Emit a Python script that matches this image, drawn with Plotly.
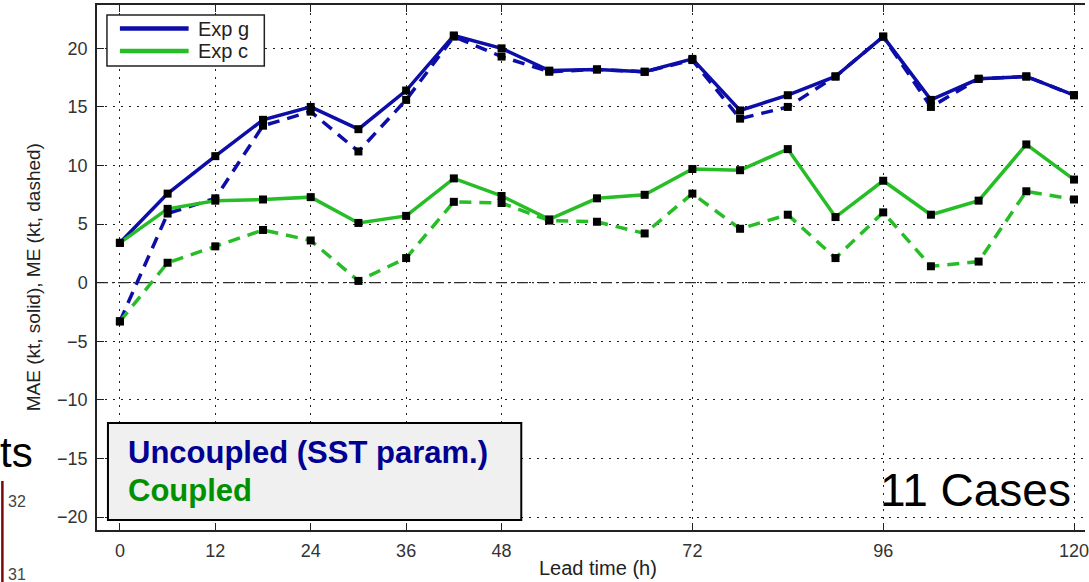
import plotly.graph_objects as go

# Lead times (h) and intensity errors (kt)
lead_time = [0, 6, 12, 18, 24, 30, 36, 42, 48, 54, 60, 66, 72, 78, 84, 90, 96, 102, 108, 114, 120]
exp_g_mae = [3.4, 7.6, 10.8, 13.9, 15.0, 13.1, 16.4, 21.1, 20.0, 18.1, 18.2, 18.0, 19.1, 14.7, 16.0, 17.6, 21.0, 15.6, 17.4, 17.6, 16.0]
exp_g_me = [-3.3, 5.9, 7.2, 13.4, 14.6, 11.2, 15.6, 21.0, 19.3, 18.0, 18.2, 18.0, 19.0, 14.0, 15.0, 17.6, 21.0, 15.0, 17.4, 17.6, 16.0]
exp_c_mae = [3.4, 6.3, 7.0, 7.1, 7.3, 5.1, 5.7, 8.9, 7.4, 5.4, 7.2, 7.5, 9.7, 9.6, 11.4, 5.6, 8.7, 5.8, 7.0, 11.8, 8.8]
exp_c_me = [-3.3, 1.7, 3.1, 4.5, 3.6, 0.15, 2.1, 6.9, 6.8, 5.3, 5.2, 4.2, 7.6, 4.6, 5.8, 2.1, 6.0, 1.4, 1.8, 7.8, 7.1]

x_ticks = [0, 12, 24, 36, 48, 72, 96, 120]
y_ticks = [-20, -15, -10, -5, 0, 5, 10, 15, 20]
legend_labels = ["Exp g", "Exp c"]
box_labels = ["Uncoupled (SST param.)", "Coupled"]
case_label = "11 Cases"

BLUE = "#0d0da8"
GREEN = "#27bd27"
FONT = "Liberation Sans, Arial, sans-serif"

W, H = 1089, 582
ML, MR, MT, MB = 97, 0, 5, 52
PW = W - ML - MR
PH = H - MT - MB


def px(x):
    return (x - ML) / PW


def py(y):
    return (H - MB - y) / PH


fig = go.Figure()

series = [
    (exp_g_me, BLUE, "12px,8px"),
    (exp_g_mae, BLUE, "solid"),
    (exp_c_me, GREEN, "12px,8px"),
    (exp_c_mae, GREEN, "solid"),
]
for values, color, dash in series:
    fig.add_trace(go.Scatter(
        x=lead_time, y=values, mode="lines+markers",
        line=dict(color=color, width=3.5, dash=dash),
        marker=dict(symbol="square", size=8, color="black", line=dict(width=0)),
        showlegend=False, hoverinfo="skip",
    ))

shapes = []
annotations = []

# zero reference line (dash-dot)
shapes.append(dict(type="line", xref="paper", yref="y", x0=0, x1=1, y0=0, y1=0,
                   line=dict(color="#333333", width=1.3, dash="11px,4px,2px,4px"),
                   layer="below"))

# legend box
shapes.append(dict(type="rect", xref="paper", yref="paper",
                   x0=px(107), x1=px(265), y0=py(66), y1=py(15),
                   line=dict(color="#222222", width=1.5), fillcolor="white"))
for label, color, yy in zip(legend_labels, [BLUE, GREEN], [28.5, 51]):
    shapes.append(dict(type="line", xref="paper", yref="paper",
                       x0=px(120), x1=px(189), y0=py(yy), y1=py(yy),
                       line=dict(color=color, width=4.5)))
    annotations.append(dict(xref="paper", yref="paper", x=px(196), y=py(yy),
                            xanchor="left", yanchor="middle", showarrow=False,
                            text=label, font=dict(family=FONT, size=20, color="#222222")))

# experiment description box
shapes.append(dict(type="rect", xref="paper", yref="paper",
                   x0=px(108), x1=px(523), y0=py(520), y1=py(423),
                   line=dict(color="black", width=2), fillcolor="#f0f0f0"))
for label, color, yy in zip(box_labels, ["#000092", "#009000"], [452, 490]):
    annotations.append(dict(xref="paper", yref="paper", x=px(126), y=py(yy),
                            xanchor="left", yanchor="middle", showarrow=False,
                            text="<b>" + label + "</b>",
                            font=dict(family=FONT, size=31, color=color)))

annotations.append(dict(xref="paper", yref="paper", x=px(1077), y=py(490),
                        xanchor="right", yanchor="middle", showarrow=False,
                        text=case_label, font=dict(family=FONT, size=46, color="black")))

# axis titles
annotations.append(dict(xref="paper", yref="paper", x=px(600), y=py(568),
                        xanchor="center", yanchor="middle", showarrow=False,
                        text="Lead time (h)", font=dict(family=FONT, size=20, color="#222222")))
annotations.append(dict(xref="paper", yref="paper", x=px(33), y=py(277),
                        xanchor="center", yanchor="middle", showarrow=False, textangle=-90,
                        text="MAE (kt, solid), ME (kt, dashed)",
                        font=dict(family=FONT, size=19, color="#222222")))

# slide fragments at the left edge
annotations.append(dict(xref="paper", yref="paper", x=px(35), y=py(452),
                        xanchor="right", yanchor="middle", showarrow=False,
                        text="ts", font=dict(family=FONT, size=42, color="black")))
annotations.append(dict(xref="paper", yref="paper", x=px(6), y=py(501),
                        xanchor="left", yanchor="middle", showarrow=False,
                        text="32", font=dict(family=FONT, size=16, color="#444444")))
annotations.append(dict(xref="paper", yref="paper", x=px(6), y=py(574),
                        xanchor="left", yanchor="middle", showarrow=False,
                        text="31", font=dict(family=FONT, size=16, color="#444444")))
shapes.append(dict(type="line", xref="paper", yref="paper",
                   x0=px(2), x1=px(2), y0=py(481), y1=py(582),
                   line=dict(color="#7a0a0a", width=2.5)))

fig.update_layout(
    width=W, height=H,
    margin=dict(l=ML, r=MR, t=MT, b=MB, pad=0),
    paper_bgcolor="white", plot_bgcolor="white",
    shapes=shapes, annotations=annotations,
    showlegend=False,
    font=dict(family=FONT, color="#333333"),
)
fig.update_xaxes(
    range=[-2.88, 121.38], tickvals=x_ticks, ticktext=[str(v) for v in x_ticks],
    showline=True, linecolor="#222222", linewidth=1.5, mirror="ticks",
    ticks="inside", ticklen=7, tickcolor="#222222", tickwidth=1.3,
    showgrid=True, gridcolor="#222222", gridwidth=1.2, griddash="2px,6px",
    zeroline=False, tickfont=dict(family=FONT, size=18, color="#333333"),
    ticklabelstandoff=4, ticklabeloverflow="allow",
)
fig.update_yaxes(
    range=[-21.11, 23.70], tickvals=y_ticks,
    showline=True, linecolor="#222222", linewidth=1.5, mirror=False,
    ticks="inside", ticklen=7, tickcolor="#222222", tickwidth=1.3,
    showgrid=True, gridcolor="#222222", gridwidth=1.2, griddash="2px,6px",
    zeroline=False, tickfont=dict(family=FONT, size=18, color="#333333"),
    ticklabelstandoff=4,
)

fig.write_html("out.html")
